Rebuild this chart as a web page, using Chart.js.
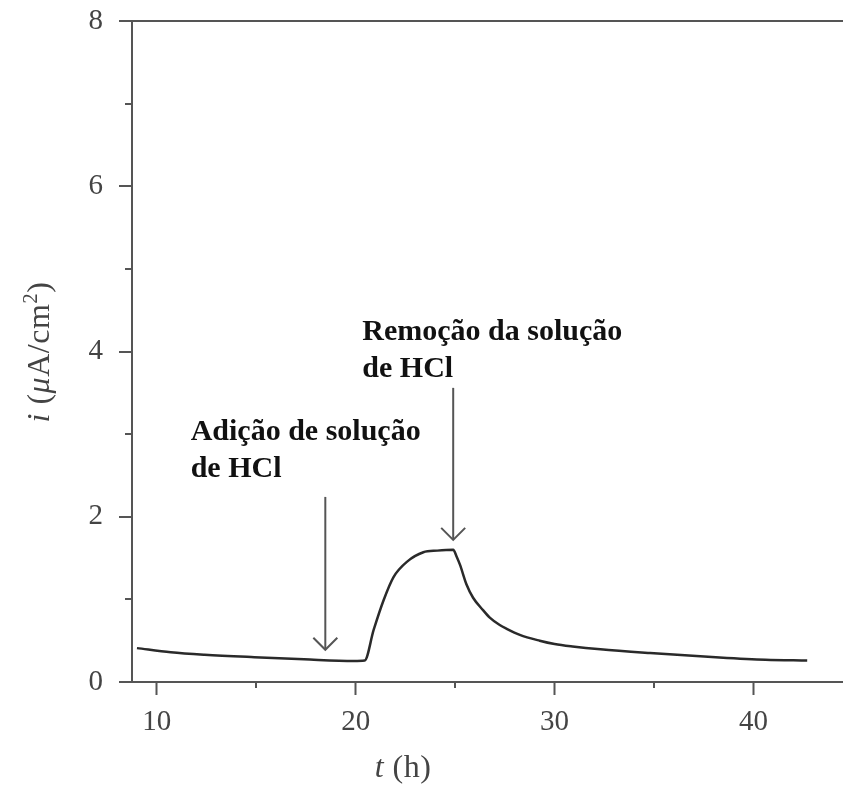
<!DOCTYPE html>
<html>
<head>
<meta charset="utf-8">
<script src="https://cdn.jsdelivr.net/npm/chart.js@4.4.1/dist/chart.umd.min.js"></script>
<style>
  body { margin: 0; background: #fff; }
</style>
</head>
<body>
<canvas id="myChart" width="843" height="786"></canvas>
<script>
// curve: time (h) and current density (uA/cm2)
var tHours = [9.0, 10.7, 12.4, 14.9, 17.4, 19.9, 20.45, 20.9, 21.4, 21.9, 22.6, 23.4, 24.1, 24.9,
  25.07, 25.24, 25.57, 25.9, 26.4, 26.74, 27.24, 27.58, 28.25, 29.25, 30.0, 30.9, 32.3, 34.8, 38.1, 40.6, 42.7];
var current = [0.41, 0.36, 0.33, 0.30, 0.275, 0.255, 0.26, 0.63, 0.99, 1.27, 1.46, 1.57, 1.59, 1.60,
  1.52, 1.42, 1.18, 1.02, 0.87, 0.78, 0.69, 0.645, 0.57, 0.50, 0.46, 0.43, 0.395, 0.35, 0.30, 0.27, 0.26];

var xTicks = [10, 20, 30, 40];
var xMinorTicks = [15, 25, 35];
var yTicks = [0, 2, 4, 6, 8];
var yMinorTicks = [1, 3, 5, 7];

// arrows and notes, in data units
var arrowT = [18.47, 24.9];
var arrowTop = [2.24, 3.56];
var arrowTip = [0.39, 1.72];
var noteLines = [["Adição de solução", "de HCl"], ["Remoção da solução", "de HCl"]];
var noteT = [11.7, 20.33];
var noteI = [2.93, 4.14];

var axisColor = '#555';
var textColor = '#444';
var serif = "'Liberation Serif', 'Times New Roman', serif";

function drawPieces(c, pieces, x, y) {
  // pieces: [text, font, dy]
  var pos = x;
  pieces.forEach(function (p) {
    c.font = p[1];
    c.fillText(p[0], pos, y + (p[2] || 0));
    pos += c.measureText(p[0]).width;
  });
}
function piecesWidth(c, pieces) {
  var w = 0;
  pieces.forEach(function (p) { c.font = p[1]; w += c.measureText(p[0]).width; });
  return w;
}

var extras = {
  id: 'extras',
  afterDraw: function (chart) {
    var c = chart.ctx;
    var xs = chart.scales.x, ys = chart.scales.y;
    var area = chart.chartArea;
    c.save();
    c.strokeStyle = axisColor;
    c.lineWidth = 2;
    // minor ticks
    yMinorTicks.forEach(function (v) {
      var py = Math.round(ys.getPixelForValue(v));
      c.beginPath(); c.moveTo(area.left - 7, py); c.lineTo(area.left, py); c.stroke();
    });
    xMinorTicks.forEach(function (v) {
      var px = Math.round(xs.getPixelForValue(v));
      c.beginPath(); c.moveTo(px, area.bottom); c.lineTo(px, area.bottom + 6); c.stroke();
    });
    // arrows
    arrowT.forEach(function (t, k) {
      var px = xs.getPixelForValue(t);
      var top = ys.getPixelForValue(arrowTop[k]);
      var tip = ys.getPixelForValue(arrowTip[k]);
      c.beginPath(); c.moveTo(px, top); c.lineTo(px, tip); c.stroke();
      c.beginPath(); c.moveTo(px - 12, tip - 12); c.lineTo(px, tip); c.lineTo(px + 12, tip - 12); c.stroke();
    });
    // notes
    c.fillStyle = '#111';
    c.font = 'bold 30px ' + serif;
    c.textAlign = 'left';
    c.textBaseline = 'alphabetic';
    noteLines.forEach(function (lines, k) {
      var px = xs.getPixelForValue(noteT[k]);
      var py = ys.getPixelForValue(noteI[k]);
      lines.forEach(function (s, j) { c.fillText(s, px, py + j * 37); });
    });
    // axis titles
    c.fillStyle = textColor;
    c.letterSpacing = '0.5px';
    var ital = 'italic 32px ' + serif, reg = '32px ' + serif, sup = '21px ' + serif;
    var xt = [['t', ital], [' (h)', reg]];
    drawPieces(c, xt, 403 - piecesWidth(c, xt) / 2, 777);
    var yt = [['i', ital], [' (', reg], ['\u03bc', ital], ['A/cm', reg], ['2', sup, -12], [')', reg]];
    c.translate(49, 352);
    c.rotate(-Math.PI / 2);
    drawPieces(c, yt, -piecesWidth(c, yt) / 2, 0);
    c.restore();
  }
};

var ctx = document.getElementById('myChart');
var myChart = new Chart(ctx, {
  type: 'line',
  data: {
    datasets: [{
      data: tHours.map(function (t, k) { return { x: t, y: current[k] }; }),
      borderColor: '#2a2a2a',
      borderWidth: 2.5,
      pointRadius: 0,
      cubicInterpolationMode: 'monotone',
      fill: false
    }]
  },
  options: {
    responsive: false,
    animation: false,
    layout: { padding: { top: 21, right: 0, left: 0, bottom: 0 } },
    plugins: { legend: { display: false }, tooltip: { enabled: false } },
    scales: {
      x: {
        type: 'linear',
        min: 8.75,
        max: 44.5,
        afterBuildTicks: function (scale) {
          scale.ticks = xTicks.map(function (v) { return { value: v }; });
        },
        afterFit: function (scale) {
          scale.height = 104;
          scale.paddingLeft = 0;
          scale.paddingRight = 0;
        },
        grid: { drawOnChartArea: false, tickLength: 13, tickColor: axisColor, tickWidth: 2 },
        border: { color: axisColor, width: 2 },
        ticks: { color: textColor, padding: 10, font: { family: serif, size: 29 } }
      },
      y: {
        min: 0,
        max: 8,
        afterBuildTicks: function (scale) {
          scale.ticks = yTicks.map(function (v) { return { value: v }; });
        },
        afterFit: function (scale) {
          scale.width = 132;
          scale.paddingTop = 0;
          scale.paddingBottom = 0;
        },
        grid: {
          color: function (c) { return c.tick && c.tick.value === 8 ? axisColor : 'rgba(0,0,0,0)'; },
          lineWidth: 2,
          tickLength: 13,
          tickColor: axisColor,
          tickWidth: 2
        },
        border: { color: axisColor, width: 2 },
        ticks: { color: textColor, padding: 16, font: { family: serif, size: 29 } }
      }
    }
  },
  plugins: [extras]
});
</script>
</body>
</html>
